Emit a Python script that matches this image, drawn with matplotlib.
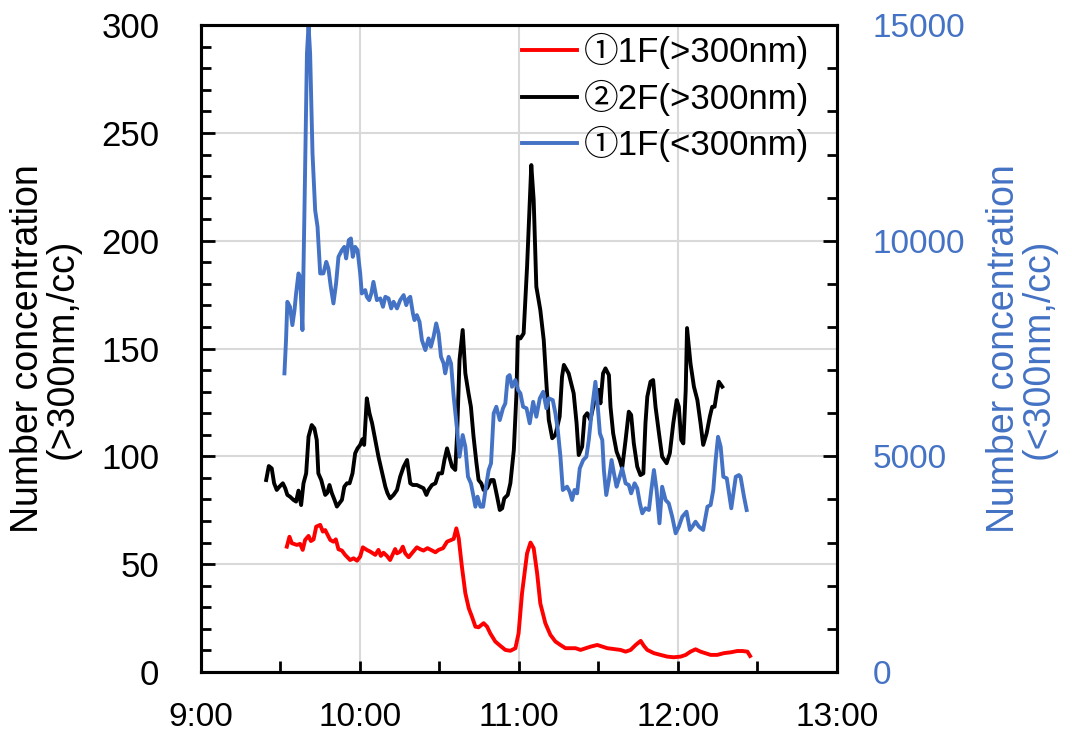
import matplotlib
matplotlib.use("Agg")
import matplotlib.pyplot as plt
from matplotlib.ticker import MultipleLocator, FixedLocator
import numpy as np

plt.rcParams['font.family'] = ['Liberation Sans', 'Noto Sans CJK JP', 'DejaVu Sans']

# minutes after 9:00, values
red_min = [32.4, 33.4, 34.3, 36.2, 37.4, 38.4, 39.3, 40.6, 41.5, 42.5, 43.5, 45.0, 46.0, 46.9, 47.5,
           48.8, 50.0, 50.9, 51.9, 53.2, 54.4, 56.3, 57.6, 58.9, 60.1, 61.1, 62.6, 63.9, 65.8, 67.0,
           67.9, 68.9, 70.2, 71.4, 73.3, 74.0, 75.2, 76.2, 77.1, 78.4, 79.6, 81.5, 82.8, 84.0, 85.5,
           86.8, 88.5, 89.7, 91.4, 92.9, 95.4, 96.4, 97.3, 98.5, 99.8, 101.1, 102.3, 103.6, 104.8,
           106.7, 108.0, 109.2, 111.1, 113.0, 114.9, 116.8, 118.7, 119.9, 121.2, 123.1, 124.4, 125.6,
           126.9, 128.1, 130.0, 131.9, 133.8, 135.7, 137.6, 141.4, 143.3, 147.0, 149.6, 153.4, 158.4,
           160.3, 162.2, 164.1, 166.0, 167.2, 168.5, 171.0, 176.0, 178.5, 181.1, 183.0, 184.8, 186.7,
           188.6, 192.4, 194.9, 197.4, 200.0, 202.5, 204.4, 206.3, 207.3]
red_val = [58.1, 62.7, 59.7, 58.9, 59.4, 56.6, 61.2, 63.1, 60.7, 61.5, 67.4, 68.2, 65.1, 65.8, 64.3,
           61.2, 60.4, 61.5, 56.9, 56.3, 54.3, 51.9, 52.7, 51.6, 53.5, 57.8, 56.6, 55.8, 54.3, 56.6,
           53.8, 55.3, 53.8, 51.9, 57.0, 55.0, 55.8, 58.1, 55.0, 53.2, 55.0, 57.8, 56.9, 56.3, 57.4,
           56.6, 55.5, 56.6, 57.4, 60.4, 61.7, 66.6, 62.0, 48.8, 36.5, 29.5, 25.6, 21.0, 20.7,
           22.6, 21.0, 17.9, 14.1, 12.1, 10.2, 9.8, 11.0, 17.9, 36.5, 55.0, 60.0, 57.4,
           45.8, 31.8, 22.6, 17.2, 14.1, 12.5, 11.0, 11.0, 10.2, 11.7, 12.5, 11.0, 10.2,
           9.4, 10.2, 12.5, 14.4, 12.1, 10.2, 8.7, 7.1, 6.8, 7.1, 7.9, 9.4, 10.5,
           9.4, 7.9, 7.9, 8.7, 9.1, 9.7, 9.7, 9.4, 7.4]

black_min = [24.6, 25.6, 26.7, 27.6, 28.6, 29.6, 30.9, 31.8, 32.6, 33.6, 34.9, 35.9, 36.8, 37.8, 38.7,
             39.7, 40.6, 41.8, 42.8, 43.7, 44.3, 45.4, 46.2, 46.9, 47.7, 48.5, 49.4, 50.4, 51.3, 52.2,
             53.2, 54.1, 55.1, 56.1, 57.2, 58.2, 59.1, 60.1, 60.9, 61.6, 62.6, 63.6, 64.6, 65.8, 67.0,
             68.3, 69.6, 70.4, 71.4, 72.7, 74.0, 75.2, 76.5, 77.8, 79.0, 80.0, 81.5, 82.8, 84.0, 85.1,
             85.9, 87.2, 88.5, 89.7, 91.0, 91.9, 92.9, 93.9, 94.8, 96.0, 96.7, 97.6, 98.8, 99.8, 101.0,
             101.9, 102.9, 104.0, 104.8, 105.8, 106.7, 108.0, 109.5, 110.5, 111.8, 112.8, 113.7, 114.5,
             115.8, 116.8, 118.1, 119.1, 119.6, 120.6, 121.8, 123.1, 124.7, 125.6, 126.6, 128.1, 129.4,
             130.4, 131.3, 132.6, 133.8, 135.4, 136.3, 137.0, 138.8, 140.7, 141.8, 142.6, 143.9, 144.8,
             145.8, 147.0, 148.9, 150.2, 150.8, 151.8, 152.7, 154.0, 154.6, 155.6, 156.9, 158.1, 159.0,
             160.3, 161.5, 162.4, 163.4, 164.7, 165.9, 167.0, 167.8, 168.5, 169.7, 170.7, 171.6, 172.9,
             174.1, 175.8, 177.0, 178.3, 179.6, 180.4, 181.3, 182.1, 183.0, 183.5, 184.8, 186.1, 187.4,
             188.6, 189.6, 190.9, 192.1, 193.0, 193.9, 194.7, 195.5, 196.8]
black_val = [89.0, 95.5, 94.4, 87.5, 84.4, 85.9, 87.5, 85.2, 82.1, 81.3, 79.8, 79.0, 84.1, 77.4, 87.5,
             92.1, 109.1, 114.5, 113.0, 107.6, 92.1, 89.0, 85.2, 82.1, 83.1, 86.7, 82.9, 79.8, 76.7, 78.2,
             79.8, 85.9, 87.5, 87.5, 92.1, 101.4, 103.7, 105.3, 107.9, 105.3, 126.9, 120.0, 115.3, 107.6, 99.8,
             92.9, 85.9, 82.9, 80.5, 82.1, 84.4, 90.6, 95.2, 98.3, 87.5, 86.7, 86.7, 85.9, 85.2, 82.1,
             84.4, 86.7, 87.5, 92.1, 92.1, 98.3, 103.7, 99.1, 95.2, 93.7, 110.7, 144.7, 158.6, 138.5, 129.2,
             123.0, 109.1, 96.8, 89.0, 87.5, 84.4, 85.2, 89.0, 89.0, 81.3, 75.1, 75.9, 80.5,
             82.1, 87.5, 102.9, 129.2, 155.5, 154.7, 157.0, 187.9, 235.1, 218.9, 178.7, 167.9, 153.9,
             133.9, 116.9, 108.4, 109.9, 118.4, 136.9, 142.4, 138.5, 129.2, 115.3, 100.6, 104.5, 118.4,
             120.0, 116.9, 127.7, 130.8, 124.6, 138.5, 140.8, 137.7, 123.0, 110.7, 102.2, 98.3, 94.5,
             107.6, 120.7, 119.2, 106.0, 95.2, 91.3, 92.1, 115.3, 127.7, 134.6, 135.4, 123.0, 110.7,
             99.8, 96.8, 101.4, 115.3, 126.1, 123.0, 107.6, 106.0, 130.8, 159.5, 143.1, 132.3, 126.1,
             115.3, 105.3, 110.7, 118.4, 123.0, 123.0, 129.2, 134.6, 132.3]

blue_min = [31.5, 32.1, 32.6, 33.6, 34.5, 35.3, 35.9, 36.8, 37.4, 38.3, 39.0, 40.0, 40.6, 41.2, 42.1,
            43.1, 44.0, 45.0, 46.2, 47.3, 48.1, 49.0, 50.0, 51.0, 51.9, 53.2, 54.1, 54.8, 55.8, 56.6,
            57.3, 58.2, 59.1, 60.1, 60.7, 62.0, 62.6, 63.5, 64.3, 65.1, 66.4, 67.7, 68.7, 69.6, 70.8,
            71.8, 72.7, 74.0, 75.2, 76.5, 77.5, 78.4, 79.0, 80.0, 80.6, 81.5, 82.5, 83.4, 84.7, 85.9,
            86.8, 87.8, 88.8, 89.7, 90.6, 91.6, 92.2, 93.5, 94.4, 95.4, 96.7, 97.6, 98.8, 99.8, 100.8,
            101.9, 102.9, 103.6, 104.4, 105.5, 106.5, 107.4, 108.6, 109.5, 110.5, 111.5, 112.8, 114.0,
            114.9, 115.8, 116.5, 117.4, 118.7, 119.7, 120.6, 121.6, 122.9, 124.1, 125.4, 126.6, 127.9,
            129.2, 130.4, 131.3, 132.8, 133.8, 134.7, 135.7, 136.6, 138.2, 139.2, 140.1, 141.0, 142.0,
            143.0, 144.3, 145.5, 146.4, 147.7, 148.9, 149.8, 150.6, 151.5, 152.1, 153.0, 154.0, 155.0,
            155.9, 156.9, 157.7, 159.0, 160.3, 161.5, 162.4, 163.7, 164.7, 165.7, 166.6, 167.8, 169.1,
            170.0, 171.0, 172.0, 173.1, 174.1, 175.4, 176.6, 177.9, 179.2, 180.4, 181.7, 183.3, 184.6,
            185.5, 186.7, 188.0, 189.6, 191.2, 192.4, 193.4, 194.3, 195.2, 196.2, 197.2, 198.5, 200.2,
            201.9, 203.1, 203.7, 205.0, 206.0]
blue_val = [6924, 7696, 8584, 8468, 8043, 8391, 8778, 9242, 9163, 7928, 10477, 14341, 15000, 14341, 12023,
            10709, 10322, 9242, 9242, 9511, 9358, 8931, 8546, 9010, 9627, 9782, 9858, 9590, 10014, 10053,
            9627, 9858, 9782, 9242, 8778, 8855, 8700, 8623, 8778, 9047, 8623, 8662, 8468, 8700, 8662,
            8431, 8584, 8431, 8623, 8739, 8507, 8662, 8700, 8315, 8159, 8275, 8120, 7696, 7464, 7735,
            7541, 7772, 8083, 7851, 7309, 7156, 6924, 7309, 7156, 6382, 5610, 4991, 5494, 5222, 4527,
            4374, 4064, 3832, 4064, 3832, 3832, 4219, 4682, 4838, 5997, 6150, 5841, 6113,
            6229, 6845, 6884, 6613, 6769, 6537, 6460, 6150, 6113, 5765, 6265, 5918, 6344,
            6497, 6113, 6344, 6305, 5997, 5610, 4991, 4219, 4296, 4179, 3987, 4219, 4142,
            4722, 4914, 4991, 5378, 6150, 6729, 6150, 5533, 5378, 4682, 4103, 4451, 4914,
            4606, 4295, 4451, 4722, 4374, 4335, 4142, 4374, 4258, 3910, 3679, 3795, 3755,
            4219, 4682, 4219, 3447, 4295, 3987, 3910, 3600, 3215, 3368, 3600, 3716, 3292,
            3368, 3484, 3368, 3292, 3832, 3871, 4219, 4914, 5454, 5222, 4527, 4490, 3795,
            4527, 4566, 4527, 4064, 3755]

hour_ticks = [9, 10, 11, 12, 13]
hour_labels = ['9:00', '10:00', '11:00', '12:00', '13:00']

red_c = '#FF0000'
blue_c = '#4472C4'

fig = plt.figure(figsize=(10.72, 7.4), dpi=100)
ax1 = fig.add_axes([0.1875, 0.092, 0.593, 0.874])
ax2 = ax1.twinx()

x_red = 9 + np.array(red_min) / 60
x_black = 9 + np.array(black_min) / 60
x_blue = 9 + np.array(blue_min) / 60

l1, = ax1.plot(x_red, red_val, color=red_c, lw=2.8, label='①1F(>300nm)')
l2, = ax1.plot(x_black, black_val, color='black', lw=2.8, label='②2F(>300nm)')
l3, = ax2.plot(x_blue, blue_val, color=blue_c, lw=2.8, label='①1F(<300nm)')

ax1.set_xlim(9, 13)
ax1.set_ylim(0, 300)
ax2.set_ylim(0, 15000)

ax1.set_xticks(hour_ticks)
ax1.set_xticklabels(hour_labels)
ax1.xaxis.set_minor_locator(FixedLocator([9.5, 10.5, 11.5, 12.5]))
ax1.yaxis.set_major_locator(MultipleLocator(50))
ax1.yaxis.set_minor_locator(MultipleLocator(10))
ax2.yaxis.set_major_locator(MultipleLocator(5000))
ax2.yaxis.set_minor_locator(MultipleLocator(1000))

ax1.grid(True, which='major', color='#D9D9D9', lw=1.5)
ax1.set_axisbelow(True)

for sp in ax2.spines.values():
    sp.set_linewidth(2.2)
for sp in ax1.spines.values():
    sp.set_linewidth(2.2)

ax1.tick_params(axis='y', which='major', direction='in', length=10, width=2, labelsize=25, pad=30)
ax1.tick_params(axis='y', which='minor', direction='in', length=7, width=2)
ax1.tick_params(axis='x', which='both', direction='in', length=8, width=2, labelsize=24, pad=22)
ax2.tick_params(axis='y', which='major', direction='in', length=10, width=2, labelsize=24, pad=26,
                labelcolor=blue_c)
ax2.tick_params(axis='y', which='minor', direction='in', length=7, width=2)

ax1.set_ylabel('Number concentration\n(>300nm,/cc)', fontsize=27, linespacing=0.95, labelpad=15)
ax2.set_ylabel('Number concentration\n(<300nm,/cc)', fontsize=27, linespacing=0.95, labelpad=15,
               color=blue_c)

leg = ax2.legend(handles=[l1, l2, l3], loc='upper right', bbox_to_anchor=(0.99, 1.02), frameon=False,
                 fontsize=25, handlelength=1.6, handletextpad=0.2, labelspacing=0.3,
                 borderaxespad=0.2)

fig.savefig('out.png', dpi=100)
